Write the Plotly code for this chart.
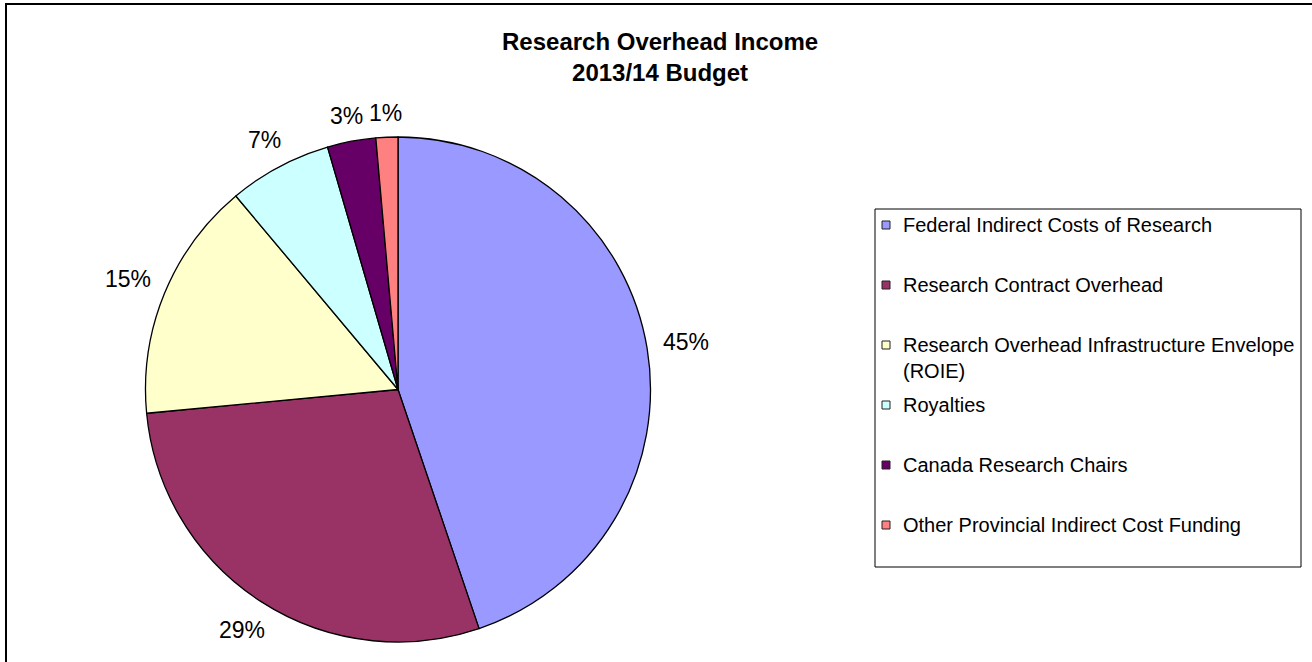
import math
import plotly.graph_objects as go

# Research overhead income shares, 2013/14 budget
labels = [
    "Federal Indirect Costs of Research",
    "Research Contract Overhead",
    "Research Overhead Infrastructure Envelope (ROIE)",
    "Royalties",
    "Canada Research Chairs",
    "Other Provincial Indirect Cost Funding",
]
legend_text = [
    "Federal Indirect Costs of Research",
    "Research Contract Overhead",
    "Research Overhead Infrastructure Envelope<br>(ROIE)",
    "Royalties",
    "Canada Research Chairs",
    "Other Provincial Indirect Cost Funding",
]
values = [44.8, 28.7, 15.4, 6.6, 3.1, 1.4]
colors = ["#9999FF", "#993366", "#FFFFCC", "#CCFFFF", "#660066", "#FF8080"]

W, H = 1312, 662
CX, CY, R = 398, 389.5, 252.5       # pie centre / radius in pixels
FONT = "Arial, Liberation Sans, sans-serif"


def px(x):
    return x / W


def py(y):
    return 1 - y / H


fig = go.Figure(
    go.Pie(
        labels=labels,
        values=values,
        sort=False,
        direction="clockwise",
        rotation=0,
        marker=dict(colors=colors, line=dict(color="black", width=1.3)),
        textinfo="none",
        hoverinfo="label+percent",
        showlegend=False,
        domain=dict(x=[px(CX - R), px(CX + R)], y=[py(CY + R), py(CY - R)]),
    )
)

annotations = []

# percentage labels just outside each slice, along the slice's mid angle
total = sum(values)
LABEL_SIZE = 23
cum = 0.0
for v in values:
    mid = (cum + v / 2) / total
    cum += v
    theta = 2 * math.pi * mid
    s, c = math.sin(theta), math.cos(theta)
    txt = f"{round(v / total * 100)}%"
    w = LABEL_SIZE * (0.556 * (len(txt) - 1) + 0.889)
    h = LABEL_SIZE * 0.72
    d = R + 15 + abs(s) * w / 2 + abs(c) * h / 2
    annotations.append(dict(
        x=px(CX + d * s), y=py(CY - d * c), xref="paper", yref="paper",
        text=txt, showarrow=False, xanchor="center", yanchor="middle",
        font=dict(family=FONT, size=LABEL_SIZE, color="black"),
    ))

# title
annotations.append(dict(
    x=px(660), y=py(26), xref="paper", yref="paper",
    text="<b>Research Overhead Income<br>2013/14 Budget</b>",
    showarrow=False, xanchor="center", yanchor="top", align="center",
    font=dict(family=FONT, size=24, color="black"),
))

shapes = [
    # outer chart frame
    dict(type="rect", xref="paper", yref="paper",
         x0=px(6), x1=1.05, y0=-0.05, y1=py(4),
         line=dict(color="black", width=2)),
    # legend box
    dict(type="rect", xref="paper", yref="paper",
         x0=px(875), x1=px(1301), y0=py(567), y1=py(209),
         line=dict(color="black", width=1), fillcolor="white"),
]

# legend entries
LEG_SIZE = 20
for i, (t, col) in enumerate(zip(legend_text, colors)):
    yc = 225 + 60 * i
    shapes.append(dict(type="rect", xref="paper", yref="paper",
                       x0=px(882), x1=px(890), y0=py(yc + 4), y1=py(yc - 4),
                       line=dict(color="#222222", width=1), fillcolor=col))
    annotations.append(dict(
        x=px(901), y=py(yc - 13), xref="paper", yref="paper",
        text=t, showarrow=False, xanchor="left", yanchor="top", align="left",
        font=dict(family=FONT, size=LEG_SIZE, color="black"),
    ))

fig.update_layout(
    width=W, height=H,
    margin=dict(l=0, r=0, t=0, b=0),
    paper_bgcolor="white",
    plot_bgcolor="white",
    showlegend=False,
    annotations=annotations,
    shapes=shapes,
)

fig.write_html("out.html")
